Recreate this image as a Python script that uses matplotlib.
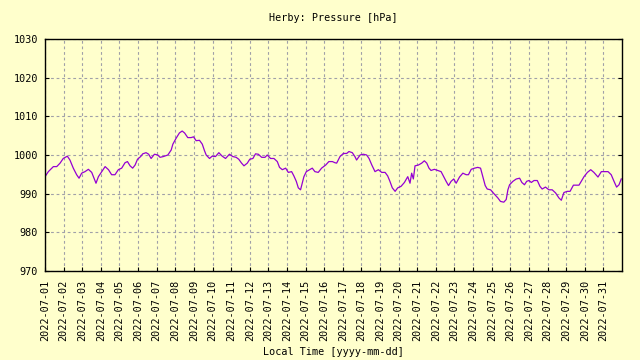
import numpy as np
import matplotlib
matplotlib.use('Agg')
import matplotlib.pyplot as plt
import matplotlib.dates as mdates
from datetime import datetime, timedelta

# days since 2022-07-01 00:00 and pressure readings (hPa)
days = [0.00, 0.18, 0.45, 0.63, 0.81, 0.98, 1.20, 1.34, 1.52, 1.70, 1.83, 1.97,
        2.15, 2.33, 2.51, 2.63, 2.74, 2.87, 3.05, 3.23, 3.41, 3.58, 3.76, 3.94,
        4.12, 4.30, 4.43, 4.57, 4.71, 4.84, 4.97, 5.14, 5.25, 5.43, 5.57, 5.70,
        5.88, 6.06, 6.18, 6.36, 6.60, 6.78, 6.87, 7.04, 7.22, 7.37, 7.50, 7.67,
        7.85, 7.98, 8.12, 8.30, 8.45, 8.57, 8.66, 8.84, 8.98, 9.16, 9.34, 9.52,
        9.70, 9.91, 10.09, 10.27, 10.41, 10.56, 10.69, 10.87, 11.00, 11.17, 11.31, 11.46,
        11.64, 11.82, 11.94, 12.12, 12.30, 12.48, 12.60, 12.75, 12.93, 13.07, 13.25, 13.37,
        13.50, 13.61, 13.73, 13.82, 13.91, 14.04, 14.22, 14.36, 14.50, 14.68, 14.86, 15.08,
        15.25, 15.44, 15.58, 15.67, 15.85, 16.03, 16.21, 16.33, 16.51, 16.65, 16.74, 16.93,
        17.10, 17.28, 17.41, 17.56, 17.73, 17.91, 18.09, 18.27, 18.41, 18.53, 18.66, 18.81,
        18.95, 19.13, 19.31, 19.49, 19.61, 19.70, 19.79, 19.88, 20.06, 20.24, 20.38, 20.51,
        20.63, 20.74, 20.92, 21.10, 21.28, 21.42, 21.55, 21.68, 21.82, 21.96, 22.09, 22.27,
        22.45, 22.63, 22.75, 22.90, 23.08, 23.25, 23.40, 23.52, 23.65, 23.76, 23.94, 24.12,
        24.33, 24.47, 24.65, 24.78, 24.87, 24.96, 25.14, 25.32, 25.50, 25.62, 25.76, 25.88,
        26.00, 26.13, 26.27, 26.45, 26.59, 26.71, 26.89, 27.07, 27.25, 27.43, 27.61, 27.74,
        27.88, 28.06, 28.21, 28.39, 28.57, 28.69, 28.81, 28.96, 29.14, 29.32, 29.49, 29.71,
        29.89, 30.07, 30.25, 30.42, 30.57, 30.71, 30.84, 30.96]
pressure = [994.4, 995.7, 997.0, 997.0, 997.9, 999.1, 999.7, 998.7, 996.6, 994.9, 994.0, 995.3,
            995.7, 996.3, 995.5, 994.0, 992.7, 994.4, 995.7, 997.0, 996.2, 994.9, 994.9, 996.2,
            996.6, 998.0, 998.3, 997.2, 996.6, 997.4, 998.9, 999.6, 1000.3, 1000.6, 1000.2, 999.1,
            1000.2, 1000.0, 999.4, 999.6, 1000.0, 1001.3, 1002.8, 1004.3, 1005.7, 1006.2, 1005.7, 1004.5,
            1004.5, 1004.7, 1003.7, 1003.8, 1002.8, 1001.1, 1000.0, 999.1, 999.7, 999.6, 1000.6, 999.7,
            999.1, 1000.2, 999.6, 999.4, 998.9, 997.9, 997.2, 997.9, 998.9, 999.1, 1000.3, 1000.2,
            999.4, 999.4, 1000.0, 999.1, 999.1, 998.3, 996.8, 996.2, 996.6, 995.5, 995.7, 994.6,
            993.2, 991.5, 991.0, 992.7, 994.4, 995.7, 996.2, 996.6, 995.7, 995.5, 996.6, 997.4,
            998.3, 998.3, 998.0, 997.9, 999.6, 1000.4, 1000.4, 1000.9, 1000.6, 999.6, 998.7, 1000.0,
            1000.2, 1000.0, 999.1, 997.4, 995.7, 996.2, 995.5, 995.5, 994.6, 993.2, 991.5, 990.6,
            991.5, 991.9, 992.9, 994.4, 992.7, 995.3, 993.8, 997.2, 997.4, 997.9, 998.5, 997.9,
            996.6, 996.0, 996.3, 996.0, 995.7, 994.4, 993.2, 992.1, 993.2, 993.8, 992.7, 994.3,
            995.3, 994.9, 994.9, 996.3, 996.6, 996.8, 996.6, 994.4, 992.1, 991.2, 991.0, 990.0,
            988.9, 988.0, 987.8, 988.5, 991.0, 992.3, 993.2, 993.8, 994.0, 992.9, 992.3, 993.2,
            993.4, 992.9, 993.4, 993.4, 991.9, 991.2, 991.7, 991.0, 991.0, 990.2, 988.9, 988.3,
            990.3, 990.6, 990.6, 992.2, 992.2, 992.2, 993.2, 994.4, 995.5, 996.2, 995.5, 994.3,
            995.7, 995.7, 995.7, 994.9, 993.2, 991.7, 992.3, 993.8]

start = datetime(2022, 7, 1)
times = [start + timedelta(days=d) for d in days]
day_ticks = [start + timedelta(days=i) for i in range(31)]

bg = '#ffffcc'
font = 'DejaVu Sans Mono'

fig = plt.figure(figsize=(6.4, 3.6), dpi=100, facecolor=bg)
ax = fig.add_axes([45 / 640, 1 - 271 / 360, 577 / 640, 232 / 360])
ax.set_facecolor(bg)

ax.plot(times, pressure, color='#9400d3', linewidth=0.9)

ax.set_xlim(start, datetime(2022, 8, 1))
ax.set_ylim(970, 1030)
ax.set_yticks(np.arange(970, 1031, 10))
ax.set_xticks(day_ticks)
ax.xaxis.set_major_formatter(mdates.DateFormatter('%Y-%m-%d'))

ax.grid(True, color='#a0a0a8', linestyle=(0, (2.5, 2.5)), linewidth=0.8)
ax.tick_params(axis='both', direction='in', length=3, width=0.8,
               labelsize=7.3, colors='black')
ax.tick_params(axis='y', right=True, pad=5)
ax.tick_params(axis='x', pad=6)
for lab in ax.get_xticklabels():
    lab.set_rotation(90)
    lab.set_fontfamily(font)
for lab in ax.get_yticklabels():
    lab.set_fontfamily(font)
for s in ax.spines.values():
    s.set_linewidth(1.0)
    s.set_color('black')

fig.text(333 / 640, 1 - 18 / 360, 'Herby: Pressure [hPa]', ha='center', va='center',
         fontsize=7.3, family=font)
fig.text(333 / 640, 1 - 352 / 360, 'Local Time [yyyy-mm-dd]', ha='center', va='center',
         fontsize=7.3, family=font)

fig.savefig('out.png', dpi=100, facecolor=bg)
